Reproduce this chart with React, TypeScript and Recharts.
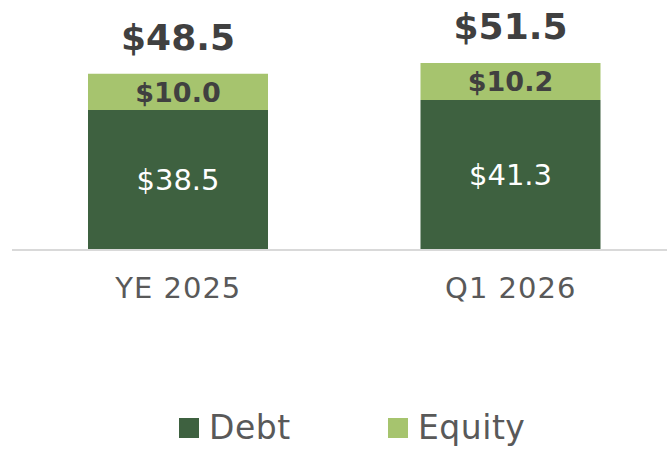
import React from 'react';
import { BarChart, Bar, XAxis, YAxis, Legend, LabelList } from 'recharts';

const categories = ['YE 2025', 'Q1 2026'];
const debt = [38.5, 41.3];
const equity = [10.0, 10.2];
const totals = [48.5, 51.5];

const COLORS = { debt: '#3E6140', equity: '#A6C46E', label: '#404040', tick: '#595959' };
const FONT = '"DejaVu Sans", Verdana, sans-serif';

const data = categories.map((name, i) => ({ name, debt: debt[i], equity: equity[i] }));

const fmt = (v: number) => `$${v.toFixed(1)}`;

const TotalLabel = (props: any) => {
  const { x, y, width, index } = props;
  return (
    <text x={x + width / 2} y={y - 24} textAnchor="middle" fill={COLORS.label} fontSize={36} fontWeight="bold" fontFamily={FONT}>
      {fmt(totals[index])}
    </text>
  );
};

const Tick = (props: any) => {
  const { x, y, payload } = props;
  return (
    <text x={x} y={y + 40} textAnchor="middle" fill={COLORS.tick} fontSize={29} fontFamily={FONT} letterSpacing={1}>
      {payload.value}
    </text>
  );
};

const LegendContent = () => {
  const items = [
    { label: 'Debt', color: COLORS.debt, left: 167 },
    { label: 'Equity', color: COLORS.equity, left: 376 },
  ];
  return (
    <div style={{ position: 'relative', height: 45 }}>
      {items.map((it) => (
        <div key={it.label} style={{ position: 'absolute', left: it.left, top: 0, height: 45, display: 'flex', alignItems: 'center' }}>
          <span style={{ width: 20, height: 20, background: it.color, display: 'inline-block', marginRight: 10 }} />
          <span style={{ fontSize: 33, color: COLORS.tick, fontFamily: FONT, lineHeight: '45px', letterSpacing: 0.5 }}>{it.label}</span>
        </div>
      ))}
    </div>
  );
};

export default function App() {
  return (
    <div style={{ position: 'absolute', left: 0, top: 0, width: 667, height: 450, overflow: 'hidden', background: '#fff' }}>
      <BarChart width={690} height={450} data={data} margin={{ top: 32, right: 13, left: 12, bottom: 0 }} barSize={180}>
        <XAxis dataKey="name" axisLine={{ stroke: '#D9D9D9', strokeWidth: 2 }} tickLine={false} tick={<Tick />} height={155} interval={0} />
        <YAxis hide domain={[0, 60]} />
        <Legend verticalAlign="bottom" height={45} content={<LegendContent />} />
        <Bar dataKey="debt" stackId="a" fill={COLORS.debt} isAnimationActive={false}>
          <LabelList dataKey="debt" position="center" formatter={(v: any) => fmt(Number(v))} fill="#FFFFFF" fontSize={29} fontFamily={FONT} />
        </Bar>
        <Bar dataKey="equity" stackId="a" fill={COLORS.equity} isAnimationActive={false}>
          <LabelList dataKey="equity" position="center" formatter={(v: any) => fmt(Number(v))} fill={COLORS.label} fontSize={27} fontWeight="bold" fontFamily={FONT} />
          <LabelList dataKey="equity" content={<TotalLabel />} />
        </Bar>
      </BarChart>
    </div>
  );
}
